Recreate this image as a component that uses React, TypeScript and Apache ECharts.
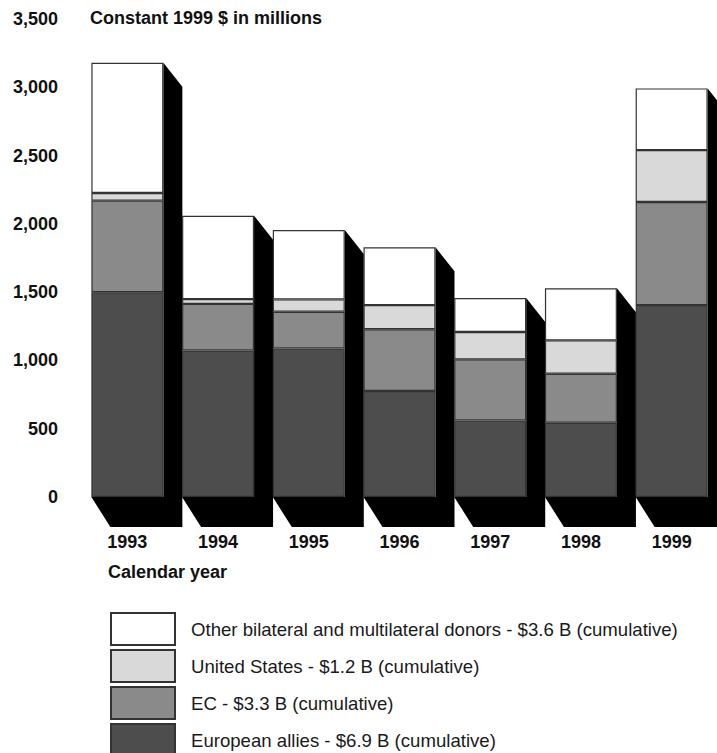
import React, { useEffect, useRef } from "react";
import * as echarts from "echarts";

const categories = ["1993", "1994", "1995", "1996", "1997", "1998", "1999"];
const europeanAllies = [1500, 1073, 1088, 776, 561, 544, 1405];
const ec = [670, 341, 268, 452, 447, 359, 755];
const unitedStates = [56, 35, 91, 177, 200, 244, 380];
const otherDonors = [954, 610, 508, 423, 249, 381, 452];

const seriesNames = [
  "European allies - $6.9 B (cumulative)",
  "EC - $3.3 B (cumulative)",
  "United States - $1.2 B (cumulative)",
  "Other bilateral and multilateral donors - $3.6 B (cumulative)",
];
const seriesColors = ["#4d4d4d", "#8a8a8a", "#d9d9d9", "#ffffff"];
const yTicks = [0, 500, 1000, 1500, 2000, 2500, 3000, 3500];

const FONT = "'Liberation Sans', Arial, Helvetica, sans-serif";
const BAR_W = 72;

export default function App() {
  const ref = useRef<HTMLDivElement>(null);

  useEffect(() => {
    document.body.style.margin = "0";
    if (!ref.current) return;
    const chart = echarts.init(ref.current, undefined, { renderer: "svg" });
    const totals = categories.map(
      (_, i) => europeanAllies[i] + ec[i] + unitedStates[i] + otherDonors[i]
    );
    const stacks = [europeanAllies, ec, unitedStates, otherDonors];

    const option: any = {
      animation: false,
      backgroundColor: "#ffffff",
      grid: { left: 82, right: 0, top: 19, bottom: 256, containLabel: false },
      legend: {
        orient: "vertical",
        left: 110,
        top: 612,
        height: 200,
        padding: 0,
        itemWidth: 64,
        itemHeight: 32,
        itemGap: 3,
        icon: "rect",
        selectedMode: false,
        data: [...seriesNames].reverse(),
        textStyle: {
          fontFamily: FONT,
          fontSize: 18.6,
          lineHeight: 28,
          color: "#1a1a1a",
          padding: [3, 0, 0, 11],
        },
      },
      xAxis: {
        type: "category",
        data: categories,
        axisLine: { show: false },
        axisTick: { show: false },
        axisLabel: {
          margin: 36,
          fontFamily: FONT,
          fontSize: 18,
          fontWeight: "bold",
          color: "#111",
        },
      },
      yAxis: {
        type: "value",
        min: yTicks[0],
        max: yTicks[yTicks.length - 1],
        interval: 500,
        axisLine: { show: false },
        axisTick: { show: false },
        splitLine: { show: false },
        axisLabel: {
          margin: 24,
          fontFamily: FONT,
          fontSize: 18,
          fontWeight: "bold",
          color: "#111",
          formatter: (v: number) => v.toLocaleString("en-US"),
        },
      },
      graphic: [
        {
          type: "text",
          left: 90,
          top: 9,
          style: {
            text: "Constant 1999 $ in millions",
            fontFamily: FONT,
            fontSize: 18,
            fontWeight: "bold",
            fill: "#111",
          },
        },
        {
          type: "text",
          left: 108,
          top: 563,
          style: {
            text: "Calendar year",
            fontFamily: FONT,
            fontSize: 18,
            fontWeight: "bold",
            fill: "#111",
          },
        },
      ],
      series: [
        {
          name: "shadow",
          type: "custom",
          z: 1,
          silent: true,
          data: totals.map((t, i) => [i, t]),
          renderItem: (params: any, api: any) => {
            const top = api.coord([api.value(0), api.value(1)]);
            const base = api.coord([api.value(0), 0]);
            const L = top[0] - BAR_W / 2;
            const R = top[0] + BAR_W / 2;
            const T = top[1];
            const B = base[1];
            const dx = 19;
            return {
              type: "polygon",
              shape: {
                points: [
                  [R, T],
                  [R + dx, T + 24],
                  [R + dx, B + 30],
                  [L + dx, B + 30],
                  [L, B],
                  [R, B],
                ],
              },
              style: { fill: "#000000", stroke: "none" },
            };
          },
        },
        ...stacks.map((arr, k) => ({
          name: seriesNames[k],
          type: "bar",
          stack: "total",
          z: 2,
          barWidth: BAR_W,
          data: arr,
          itemStyle: {
            color: seriesColors[k],
            borderColor: "#333333",
            borderWidth: 1.2,
          },
        })),
      ],
    };
    chart.setOption(option);
    return () => chart.dispose();
  }, []);

  return <div ref={ref} style={{ width: 717, height: 753 }} />;
}
